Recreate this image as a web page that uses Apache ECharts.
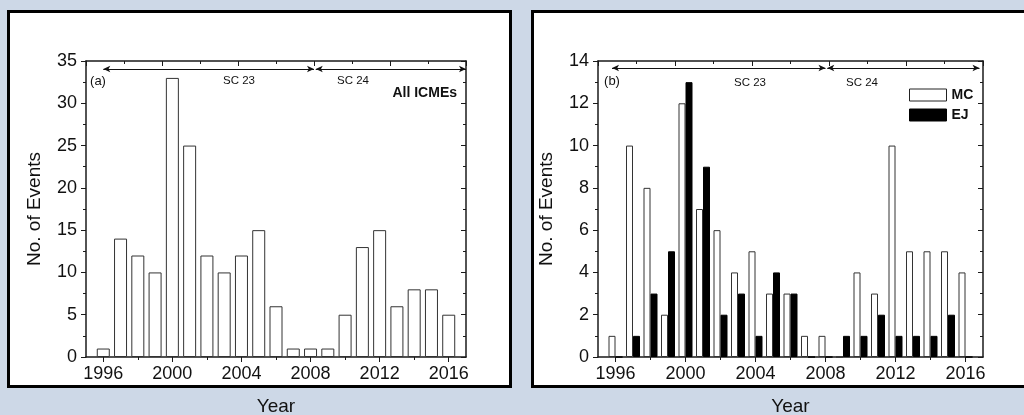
<!DOCTYPE html>
<html>
<head>
<meta charset="utf-8">
<script src="https://cdn.jsdelivr.net/npm/echarts@6/dist/echarts.min.js"></script>
<style>
  html, body { margin: 0; padding: 0; background: #cdd8e7; }
  #chart { width: 1024px; height: 415px; }
</style>
</head>
<body>
<div id="chart"></div>
<script>
// data
const years = [1996, 1997, 1998, 1999, 2000, 2001, 2002, 2003, 2004, 2005, 2006,
               2007, 2008, 2009, 2010, 2011, 2012, 2013, 2014, 2015, 2016];
const allIcmes = [1, 14, 12, 10, 33, 25, 12, 10, 12, 15, 6, 1, 1, 1, 5, 13, 15, 6, 8, 8, 5];
const mcCounts = [1, 10, 8, 2, 12, 7, 6, 4, 5, 3, 3, 1, 1, 0, 4, 3, 10, 5, 5, 5, 4];
const ejCounts = [0, 1, 3, 5, 13, 9, 2, 3, 1, 4, 3, 0, 0, 1, 1, 2, 1, 1, 1, 2, 0];

const yearTicks = [1996, 2000, 2004, 2008, 2012, 2016];
const yearMinorTicks = [1998, 2002, 2006, 2010, 2014];
const sc23Span = [1996, 2008.2];
const sc24Span = [2008.3, 2017];

const FONT = 'Liberation Sans, Arial, sans-serif';
const AX = '#1a1a1a';

const pairs = vals => years.map((y, i) => [y, vals[i]]);

// bottom year axis + overlay for the minor ticks + decorative top axis
function xAxes(grid) {
  return [
    {
      type: 'value', gridIndex: grid, position: 'bottom', min: 1995, max: 2017,
      name: 'Year', nameLocation: 'middle', nameGap: 40,
      nameTextStyle: { fontFamily: FONT, fontSize: 19, color: '#111' },
      axisLine: { lineStyle: { color: AX, width: 1.5 } },
      axisTick: { show: true, length: 5, inside: false, customValues: yearTicks, lineStyle: { color: AX } },
      axisLabel: { customValues: yearTicks, formatter: v => String(v),
                   fontFamily: FONT, fontSize: 18, color: '#111', margin: 8 },
      splitLine: { show: false }
    },
    {
      type: 'value', gridIndex: grid, position: 'bottom', min: 1995, max: 2017,
      axisLine: { show: false },
      axisTick: { show: true, length: 3, customValues: yearMinorTicks, lineStyle: { color: AX } },
      axisLabel: { show: false },
      splitLine: { show: false }
    },
    {
      type: 'value', gridIndex: grid, position: 'top', min: 0, max: 10, interval: 2,
      axisLine: { lineStyle: { color: AX, width: 1.5 } },
      axisTick: { inside: true, length: 5, lineStyle: { color: AX } },
      minorTick: { show: true, splitNumber: 2, length: 3, lineStyle: { color: AX } },
      axisLabel: { show: false },
      splitLine: { show: false }
    }
  ];
}

function yAxes(grid, max, step) {
  return [
    {
      type: 'value', gridIndex: grid, position: 'left', min: 0, max: max, interval: step,
      name: 'No. of Events', nameLocation: 'middle', nameGap: 42,
      nameTextStyle: { fontFamily: FONT, fontSize: 19, color: '#111' },
      axisLine: { show: true, lineStyle: { color: AX, width: 1.5 } },
      axisTick: { show: true, length: 5, lineStyle: { color: AX } },
      minorTick: { show: true, splitNumber: 2, length: 3, lineStyle: { color: AX } },
      axisLabel: { fontFamily: FONT, fontSize: 18, color: '#111', margin: 9 },
      splitLine: { show: false }
    },
    {
      type: 'value', gridIndex: grid, position: 'right', min: 0, max: max, interval: step,
      axisLine: { show: true, lineStyle: { color: AX, width: 1.5 } },
      axisTick: { show: true, inside: true, length: 5, lineStyle: { color: AX } },
      minorTick: { show: true, splitNumber: 2, length: 3, lineStyle: { color: AX } },
      axisLabel: { show: false },
      splitLine: { show: false }
    }
  ];
}

function cycleArrows(y) {
  return {
    silent: true,
    symbol: ['arrow', 'arrow'],
    symbolSize: [5, 7],
    label: { show: false },
    lineStyle: { color: '#111', width: 1, type: 'solid' },
    data: [
      [{ coord: [sc23Span[0], y] }, { coord: [sc23Span[1], y] }],
      [{ coord: [sc24Span[0], y] }, { coord: [sc24Span[1], y] }]
    ]
  };
}

const txt = (x, y, text, size, weight, align) => ({
  type: 'text', x: x, y: y,
  style: { text: text, font: (weight || 'normal') + ' ' + size + 'px ' + FONT,
           fill: '#111', textAlign: align || 'center', textVerticalAlign: 'middle' }
});

const chart = echarts.init(document.getElementById('chart'));
chart.setOption({
  animation: false,
  backgroundColor: '#cdd8e7',
  grid: [
    { left: 86, right: 558, top: 61, bottom: 58, outerBoundsMode: 'none' },
    { left: 598, right: 41, top: 61, bottom: 58, outerBoundsMode: 'none' }
  ],
  xAxis: [...xAxes(0), ...xAxes(1)],
  yAxis: [...yAxes(0, 35, 5), ...yAxes(1, 14, 2)],
  legend: {
    left: 904, top: 83, orient: 'vertical', itemWidth: 37, itemHeight: 12, itemGap: 6,
    textStyle: { fontFamily: FONT, fontSize: 14, fontWeight: 'bold', color: '#111' },
    data: [
      { name: 'MC', icon: 'rect', itemStyle: { color: '#fff', borderColor: '#222', borderWidth: 1 } },
      { name: 'EJ', icon: 'rect', itemStyle: { color: '#000', borderColor: '#000', borderWidth: 1 } }
    ]
  },
  graphic: [
    { type: 'rect', shape: { x: 8.5, y: 11.5, width: 502, height: 375 },
      style: { fill: '#fff', stroke: '#000', lineWidth: 3 }, z: -10 },
    { type: 'rect', shape: { x: 532.5, y: 11.5, width: 500, height: 375 },
      style: { fill: '#fff', stroke: '#000', lineWidth: 3 }, z: -10 },
    txt(98, 81, '(a)', 13),
    txt(239, 81, 'SC 23', 11.5),
    txt(353, 81, 'SC 24', 11.5),
    txt(457, 93, 'All ICMEs', 14, 'bold', 'right'),
    txt(612, 81, '(b)', 13),
    txt(750, 83, 'SC 23', 11.5),
    txt(862, 83, 'SC 24', 11.5)
  ],
  series: [
    {
      name: 'All ICMEs', type: 'bar', xAxisIndex: 0, yAxisIndex: 0,
      barWidth: 13, data: pairs(allIcmes),
      itemStyle: { color: '#fff', borderColor: '#333', borderWidth: 1 },
      markLine: cycleArrows(34.05)
    },
    {
      name: 'MC', type: 'bar', xAxisIndex: 3, yAxisIndex: 2,
      barWidth: 7, barGap: '0%', data: pairs(mcCounts),
      itemStyle: { color: '#fff', borderColor: '#333', borderWidth: 1 },
      markLine: cycleArrows(13.67)
    },
    {
      name: 'EJ', type: 'bar', xAxisIndex: 3, yAxisIndex: 2,
      barWidth: 7, barGap: '0%', data: pairs(ejCounts),
      itemStyle: { color: '#000', borderColor: '#000', borderWidth: 1 }
    }
  ]
});
</script>
</body>
</html>
